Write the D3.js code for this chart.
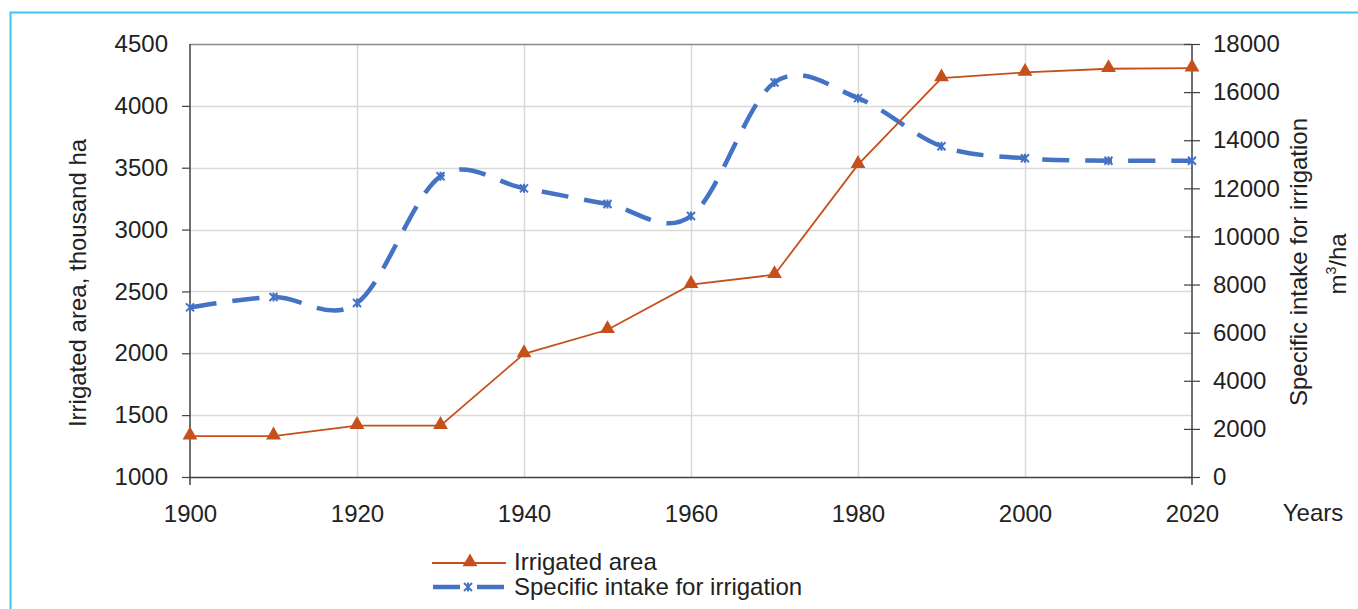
<!DOCTYPE html>
<html>
<head>
<meta charset="utf-8">
<script src="https://cdn.jsdelivr.net/npm/d3@7"></script>
<style>
  body { margin: 0; background: #fff; }
  svg { display: block; font-family: "Liberation Sans", Arial, sans-serif; }
</style>
</head>
<body>
<svg width="1358" height="609"></svg>
<script>
const years = [1900, 1910, 1920, 1930, 1940, 1950, 1960, 1970, 1980, 1990, 2000, 2010, 2020];
const irrigatedArea = [1330, 1330, 1415, 1415, 1995, 2190, 2555, 2635, 3525, 4225, 4270, 4300, 4305];
const specificIntake = [7050, 7480, 7230, 12500, 12000, 11350, 10850, 16400, 15750, 13750, 13250, 13150, 13150];
const leftTicks = [1000, 1500, 2000, 2500, 3000, 3500, 4000, 4500];
const rightTicks = [0, 2000, 4000, 6000, 8000, 10000, 12000, 14000, 16000, 18000];
const xTicks = [1900, 1920, 1940, 1960, 1980, 2000, 2020];

const svg = d3.select("svg");
const plotL = 190, plotR = 1192, plotT = 44, plotB = 477;
const orange = "#c5501c", blue = "#4472c4";
const fs = 24;

// frame
svg.append("path")
    .attr("d", "M10.5,609 V12.5 H1358")
    .attr("fill", "none")
    .attr("stroke", "#3ec5ef")
    .attr("stroke-width", 2);

const x = d3.scaleLinear().domain([1900, 2020]).range([plotL, plotR]);
const yL = d3.scaleLinear().domain([1000, 4500]).range([plotB, plotT]);
const yR = d3.scaleLinear().domain([0, 18000]).range([plotB, plotT]);

// grid
svg.append("g").selectAll("line").data(leftTicks.slice(1, -1)).enter().append("line")
    .attr("x1", plotL).attr("x2", plotR)
    .attr("y1", d => Math.round(yL(d)) + 0.5).attr("y2", d => Math.round(yL(d)) + 0.5)
    .attr("stroke", "#d9d9d9").attr("stroke-width", 1.5);
svg.append("g").selectAll("line").data(xTicks.slice(1, -1)).enter().append("line")
    .attr("y1", plotT).attr("y2", plotB)
    .attr("x1", d => Math.round(x(d)) + 0.5).attr("x2", d => Math.round(x(d)) + 0.5)
    .attr("stroke", "#d9d9d9").attr("stroke-width", 1.5);
svg.append("line").attr("x1", plotL).attr("x2", plotR).attr("y1", plotT + 0.5).attr("y2", plotT + 0.5)
    .attr("stroke", "#8c8c8c").attr("stroke-width", 1.5);

// axes
const axL = svg.append("g").attr("transform", `translate(${plotL},0)`)
    .call(d3.axisLeft(yL).tickValues(leftTicks).tickSize(8).tickPadding(14).tickFormat(d3.format("d")));
const axR = svg.append("g").attr("transform", `translate(${plotR},0)`)
    .call(d3.axisRight(yR).tickValues(rightTicks).tickSize(8).tickPadding(13).tickFormat(d3.format("d")));
axR.selectAll(".tick line").attr("x1", -8);
const axB = svg.append("g").attr("transform", `translate(0,${plotB})`)
    .call(d3.axisBottom(x).tickValues(xTicks).tickSize(0).tickPadding(28).tickFormat(d3.format("d")));
axL.select(".tick:last-of-type line").remove();
[axL, axR, axB].forEach(a => {
    a.select(".domain").attr("stroke", "#404040").attr("stroke-width", 1.5);
    a.selectAll(".tick line").attr("stroke", "#404040").attr("stroke-width", 1.2);
    a.selectAll("text").attr("font-size", fs).attr("fill", "#222")
        .attr("font-family", "'Liberation Sans', Arial, sans-serif");
});
axL.select(".domain").attr("d", `M0,${plotT}V${plotB + 8}`);
axR.select(".domain").attr("d", `M0,${plotT}V${plotB + 8}`);
axB.select(".domain").attr("d", `M${plotL},0.5H${plotR}`);

// titles
svg.append("text").attr("transform", "translate(86,283) rotate(-90)")
    .attr("text-anchor", "middle").attr("font-size", fs).attr("fill", "#222")
    .text("Irrigated area, thousand ha");
svg.append("text").attr("transform", "translate(1307,262) rotate(-90)")
    .attr("text-anchor", "middle").attr("font-size", fs).attr("fill", "#222")
    .text("Specific intake for irrigation");
const m3 = svg.append("text").attr("transform", "translate(1346,264) rotate(-90)")
    .attr("text-anchor", "middle").attr("font-size", fs).attr("fill", "#222");
m3.append("tspan").text("m");
m3.append("tspan").attr("dy", -10).attr("font-size", 14).text("3");
m3.append("tspan").attr("dy", 10).text("/ha");
svg.append("text").attr("x", 1313).attr("y", 521).attr("text-anchor", "middle")
    .attr("font-size", fs).attr("fill", "#222").text("Years");

// series
const areaData = years.map((yr, i) => ({ yr, v: irrigatedArea[i] }));
const intakeData = years.map((yr, i) => ({ yr, v: specificIntake[i] }));

svg.append("path").datum(intakeData)
    .attr("fill", "none").attr("stroke", blue).attr("stroke-width", 4.5)
    .attr("stroke-dasharray", "27,16")
    .attr("d", d3.line().x(d => x(d.yr)).y(d => yR(d.v)).curve(d3.curveCardinal.tension(0)));

svg.append("path").datum(areaData)
    .attr("fill", "none").attr("stroke", orange).attr("stroke-width", 1.8)
    .attr("d", d3.line().x(d => x(d.yr)).y(d => yL(d.v)));

const tri = d3.symbol().type(d3.symbolTriangle).size(95);
svg.append("g").selectAll("path").data(areaData).enter().append("path")
    .attr("transform", d => `translate(${x(d.yr)},${yL(d.v) - 1})`)
    .attr("d", tri).attr("fill", orange);

function cross(g) {
    g.append("path").attr("d", "M-4,-4L4,4M-4,4L4,-4M0,-4.5V4.5")
        .attr("stroke", blue).attr("stroke-width", 2).attr("fill", "none");
}
svg.append("g").selectAll("g").data(intakeData).enter().append("g")
    .attr("transform", d => `translate(${x(d.yr)},${yR(d.v)})`)
    .each(function () { cross(d3.select(this)); });

// legend
const lg = svg.append("g");
lg.append("line").attr("x1", 432).attr("x2", 506).attr("y1", 563).attr("y2", 563)
    .attr("stroke", orange).attr("stroke-width", 1.8);
lg.append("path").attr("transform", "translate(470,562)").attr("d", tri).attr("fill", orange);
lg.append("text").attr("x", 514).attr("y", 570).attr("font-size", fs).attr("fill", "#222").text("Irrigated area");
lg.append("line").attr("x1", 433).attr("x2", 460).attr("y1", 587).attr("y2", 587)
    .attr("stroke", blue).attr("stroke-width", 4.5);
lg.append("line").attr("x1", 477).attr("x2", 504).attr("y1", 587).attr("y2", 587)
    .attr("stroke", blue).attr("stroke-width", 4.5);
lg.append("g").attr("transform", "translate(468,587)").call(cross);
lg.append("text").attr("x", 514).attr("y", 595).attr("font-size", fs).attr("fill", "#222").text("Specific intake for irrigation");
</script>
</body>
</html>
